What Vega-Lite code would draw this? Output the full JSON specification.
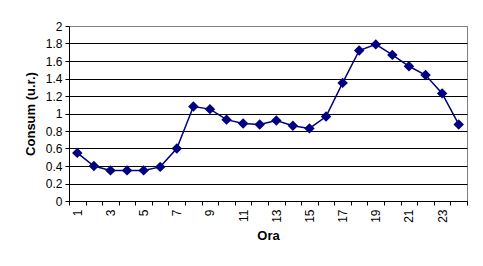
{
  "$schema": "https://vega.github.io/schema/vega-lite/v6.json",
  "width": 398,
  "height": 175,
  "autosize": {"type": "none"},
  "padding": {"left": 69, "top": 26, "right": 16, "bottom": 65},
  "background": "white",
  "config": {
    "font": "Liberation Sans",
    "view": {"stroke": "#808080", "strokeWidth": 1}
  },
  "data": {
    "values": [
      {"ora": 1, "consum": 0.55},
      {"ora": 2, "consum": 0.40},
      {"ora": 3, "consum": 0.35},
      {"ora": 4, "consum": 0.35},
      {"ora": 5, "consum": 0.35},
      {"ora": 6, "consum": 0.39},
      {"ora": 7, "consum": 0.60},
      {"ora": 8, "consum": 1.08},
      {"ora": 9, "consum": 1.05},
      {"ora": 10, "consum": 0.93},
      {"ora": 11, "consum": 0.885},
      {"ora": 12, "consum": 0.875},
      {"ora": 13, "consum": 0.92},
      {"ora": 14, "consum": 0.86},
      {"ora": 15, "consum": 0.83},
      {"ora": 16, "consum": 0.965},
      {"ora": 17, "consum": 1.35},
      {"ora": 18, "consum": 1.72},
      {"ora": 19, "consum": 1.79},
      {"ora": 20, "consum": 1.67},
      {"ora": 21, "consum": 1.54},
      {"ora": 22, "consum": 1.44},
      {"ora": 23, "consum": 1.23},
      {"ora": 24, "consum": 0.875}
    ]
  },
  "encoding": {
    "x": {
      "field": "ora",
      "type": "ordinal",
      "scale": {"type": "band", "paddingInner": 0, "paddingOuter": 0},
      "axis": {
        "title": "Ora",
        "titleFontSize": 13,
        "titleFontWeight": "bold",
        "titleColor": "black",
        "titlePadding": 7,
        "labelAngle": -90,
        "labelFontSize": 12,
        "labelColor": "black",
        "labelPadding": 4,
        "labelExpr": "datum.value % 2 == 1 ? datum.label : ''",
        "tickBand": "extent",
        "tickSize": 4,
        "tickColor": "black",
        "domainColor": "black",
        "grid": false
      }
    },
    "y": {
      "field": "consum",
      "type": "quantitative",
      "scale": {"domain": [0, 2], "nice": false},
      "axis": {
        "title": "Consum (u.r.)",
        "titleFontSize": 13,
        "titleFontWeight": "bold",
        "titleColor": "black",
        "titlePadding": 8,
        "values": [0, 0.2, 0.4, 0.6, 0.8, 1, 1.2, 1.4, 1.6, 1.8, 2],
        "format": "~g",
        "labelFontSize": 12,
        "labelColor": "black",
        "labelPadding": 3,
        "tickSize": 4,
        "tickColor": "black",
        "domainColor": "black",
        "grid": true,
        "gridColor": {"condition": {"test": "datum.value == 2", "value": "#808080"}, "value": "black"},
        "gridOpacity": 1
      }
    }
  },
  "layer": [
    {"mark": {"type": "line", "color": "#000080", "strokeWidth": 1.5}},
    {"mark": {"type": "point", "shape": "diamond", "filled": true, "color": "#000080", "size": 110, "opacity": 1}}
  ]
}
